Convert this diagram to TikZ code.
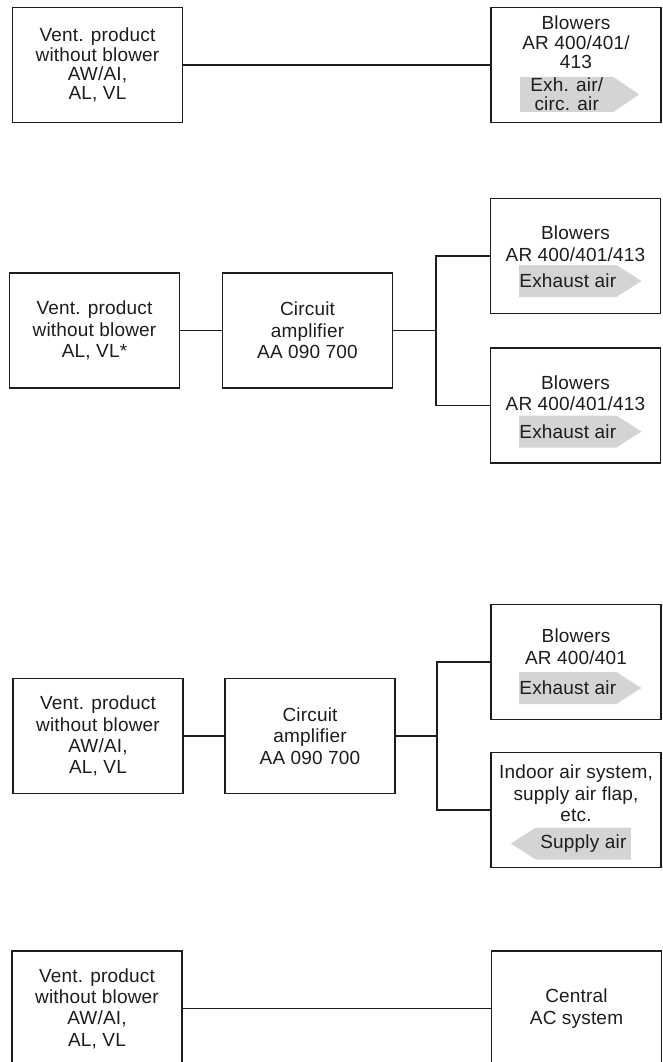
\documentclass[tikz,border=0pt]{standalone}
\usepackage{fontspec}
\setmainfont{Liberation Sans}[LetterSpace=1.0]
\usetikzlibrary{positioning,shapes.arrows}
\definecolor{inkgray}{RGB}{30,28,28}
\definecolor{flowgray}{RGB}{212,212,212}

\begin{document}
\begin{tikzpicture}[x=1pt, y=-1pt,
    every node/.style={font=\fontsize{19}{21.3}\selectfont, text=inkgray},
    unitbox/.style={draw=inkgray, line width=1.3pt, minimum width=170pt, minimum height=115pt, inner sep=0pt, align=center},
    boxtext/.style={inner sep=0pt, align=center},
    tight/.style={font=\fontsize{19}{19.3}\selectfont},
    flowright/.style={single arrow, fill=flowgray, anchor=tail, single arrow head extend=0pt, single arrow tip angle=65, minimum height=119pt, minimum width=32pt, inner sep=0pt, align=center},
    flowleft/.style={flowright, shape border rotate=180, minimum height=120pt},
    wire/.style={draw=inkgray, line width=1.3pt}]

    \clip (0,0) rectangle (662,1062);

    % === Row 1 – direct link to blower ===
    \node[unitbox, tight] (v1) at (97.5,65) {Vent. product\\without blower\\AW/AI,\\AL, VL};
    \node[unitbox] (b1) at (576,65) {};
    \node[boxtext, tight, below=9pt of b1.north] (c1) {Blowers\\AR 400/401/\\413};
    \node[flowright, tight, minimum width=35pt, single arrow tip angle=68] (e1) at (520,94.5) {Exh. air/\\circ. air};

    \draw[wire] (v1) -- (b1);


    % === Row 2 – amplifier with two blowers ===
    \node[unitbox] (v2) at (94.5,330.5) {Vent. product\\without blower\\AL, VL*};
    \node[unitbox] (a2) at (307.5,330.5) {Circuit\\amplifier\\AA 090 700};
    \coordinate (j2) at (436,330.5);
    \node[unitbox] (b2a) at (575.5,256) {};
    \node[boxtext, below=28pt of b2a.north] (c2a) {Blowers\\AR 400/401/413};
    \node[flowright] (e2a) at (519,281) {Exhaust air};
    \node[unitbox] (b2b) at (575.5,405.5) {};
    \node[boxtext, below=28pt of b2b.north] (c2b) {Blowers\\AR 400/401/413};
    \node[flowright] (e2b) at (519,431.5) {Exhaust air};

    \draw[wire] (v2) -- (a2);
    \draw[wire] (a2) -- (j2);
    \draw[wire] (b2a.west) -| (j2) |- (b2b.west);


    % === Row 3 – amplifier with blower and supply air ===
    \node[unitbox] (v3) at (98,736) {Vent. product\\without blower\\AW/AI,\\AL, VL};
    \node[unitbox] (a3) at (310,736) {Circuit\\amplifier\\AA 090 700};
    \coordinate (j3) at (437,736);
    \node[unitbox] (b3a) at (576,662) {};
    \node[boxtext, below=25pt of b3a.north] (c3a) {Blowers\\AR 400/401};
    \node[flowright] (e3a) at (519,688) {Exhaust air};
    \node[unitbox] (b3b) at (576,810) {};
    \node[boxtext, below=13pt of b3b.north] (c3b) {Indoor air system,\\supply air flap,\\etc.};
    \node[flowleft] (e3b) at (631,843.5) {Supply air};

    \draw[wire] (v3) -- (a3);
    \draw[wire] (a3) -- (j3);
    \draw[wire] (b3a.west) -| (j3) |- (b3b.west);


    % === Row 4 – central AC system ===
    \node[unitbox] (v4) at (97,1008.5) {Vent. product\\without blower\\AW/AI,\\AL, VL};
    \node[unitbox] (c4) at (576.5,1008.5) {Central\\AC system};

    \draw[wire] (v4) -- (c4);
\end{tikzpicture}
\end{document}
